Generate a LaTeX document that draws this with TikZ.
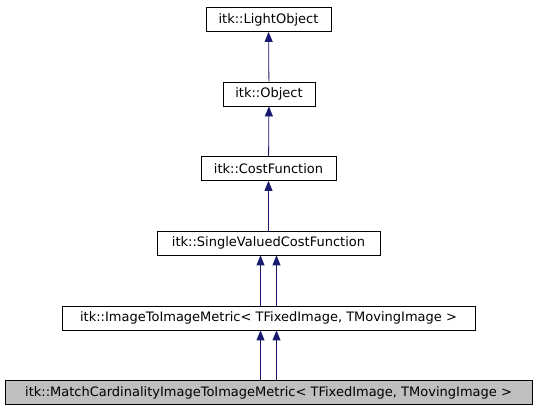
\documentclass[tikz,border=0pt]{standalone}
\usepackage{fontspec}
\setmainfont{DejaVu Sans}
\usetikzlibrary{arrows.meta}
\definecolor{inhblue}{HTML}{191970}
\definecolor{curgray}{HTML}{BFBFBF}
\begin{document}
\begin{tikzpicture}[x=1pt,y=-1pt,
    cls/.style={draw=black, fill=white, line width=0.8pt, minimum height=24pt, inner sep=0pt, font=\fontsize{13}{15}\selectfont},
    inh/.style={draw=inhblue, line width=0.8pt, -{Triangle[length=10pt,width=8pt]}}]
    \useasboundingbox (0,0) rectangle (536,411);
    \node[cls, minimum width=125pt] (light) at (268.5,19.5) {itk::LightObject};
    \node[cls, minimum width=92pt] (obj) at (269,94) {itk::Object};
    \node[cls, minimum width=135pt] (cost) at (268.5,168.5) {itk::CostFunction};
    \node[cls, minimum width=223pt] (svcf) at (268.5,243) {itk::SingleValuedCostFunction};
    \node[cls, minimum width=413pt] (img) at (268.5,318) {itk::ImageToImageMetric< TFixedImage, TMovingImage >};
    \node[cls, fill=curgray, minimum width=527pt] (match) at (268.5,392.5) {itk::MatchCardinalityImageToImageMetric< TFixedImage, TMovingImage >};
    \draw[inh] (obj) -- (light);
    \draw[inh] (cost) -- (obj);
    \draw[inh] (svcf) -- (cost);
    \draw[inh] ([xshift=-8pt]img.north) -- ([xshift=-8pt]svcf.south);
    \draw[inh] ([xshift=8pt]img.north) -- ([xshift=8pt]svcf.south);
    \draw[inh] ([xshift=-8pt]match.north) -- ([xshift=-8pt]img.south);
    \draw[inh] ([xshift=8pt]match.north) -- ([xshift=8pt]img.south);
\end{tikzpicture}
\end{document}
